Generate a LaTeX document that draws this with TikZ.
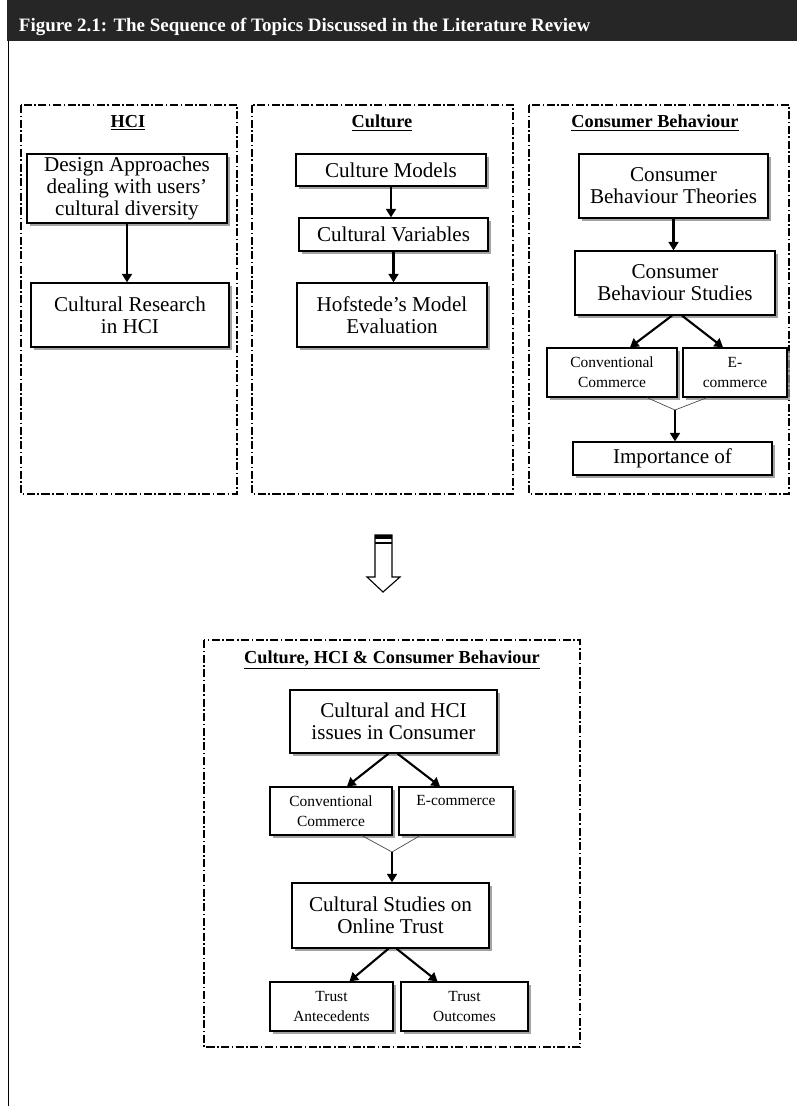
\documentclass[tikz,border=0pt]{standalone}
\usepackage{fontspec}
\setmainfont{Liberation Serif}
\usetikzlibrary{arrows.meta,shadows,calc}
\definecolor{barclr}{HTML}{262626}

\begin{document}
\begin{tikzpicture}[x=0.025cm,y=-0.025cm,
  box/.style={draw,line width=0.9pt,fill=white,inner sep=0pt,align=center,
    font=\fontsize{15}{15.5}\selectfont,
    drop shadow={shadow xshift=2pt,shadow yshift=-2pt,fill=black!45,opacity=0.8}},
  smallbox/.style={box,font=\fontsize{11}{14.5}\selectfont},
  panel/.style={line width=1.4pt,dash pattern=on 5.7pt off 1.8pt on 1.1pt off 1.8pt},
  heading/.style={font=\fontsize{13}{15}\selectfont\bfseries},
  arr/.style={-{Triangle[width=7pt,length=6pt]},line width=1.5pt},
  joinline/.style={line width=0.5pt,black!70}]
\useasboundingbox (0,0) rectangle (797,1106);

% Title bar and frame
\fill[barclr] (7,0) rectangle (797,41);
\node[anchor=base west,text=white,font=\fontsize{13.5}{16}\selectfont\bfseries] (figtitle) at (14,31)
  {Figure 2.1: The Sequence of Topics Discussed in the Literature Review};
\draw[line width=1.2pt] (8.5,41) -- (8.5,1106);

% HCI
\draw[panel] (21,105) rectangle (237,494);
\node[heading] (hcihead) at (128,123) {\underline{HCI}};
\node[box,minimum width=5cm,minimum height=1.725cm] (dsgn) at (127,188.5)
  {Design Approaches\\dealing with users'\\cultural diversity};
\node[box,minimum width=4.95cm,minimum height=1.6cm] (hcires) at (130,315) {Cultural Research\\in HCI};
\draw[arr] (dsgn.south) -- (dsgn.south |- hcires.north);

% Culture
\draw[panel] (252,105) rectangle (513,494);
\node[heading] (culhead) at (382,123) {\underline{Culture}};
\node[box,minimum width=4.75cm,minimum height=0.8cm] (cmod) at (391,170) {Culture Models};
\node[box,minimum width=4.725cm,minimum height=0.825cm] (cvar) at (393.5,234.5) {Cultural Variables};
\node[box,minimum width=4.75cm,minimum height=1.6cm] (hofs) at (392,315) {Hofstede's Model\\Evaluation};
\draw[arr] (cmod.south) -- (cmod.south |- cvar.north);
\draw[arr] (cvar.south) -- (cvar.south |- hofs.north);

% Consumer Behaviour
\draw[panel] (529,105) rectangle (789,494);
\node[heading] (cbhead) at (655,123) {\underline{Consumer Behaviour}};
\node[box,minimum width=4.725cm,minimum height=1.6cm] (cbthe) at (673.5,186) {Consumer\\Behaviour Theories};
\node[box,minimum width=5cm,minimum height=1.6cm] (cbstu) at (675,283) {Consumer\\Behaviour Studies};
\node[smallbox,minimum width=3.25cm,minimum height=1.225cm] (cbconv) at (612,372.5) {Conventional\\Commerce};
\node[smallbox,minimum width=2.6cm,minimum height=1.225cm] (cbecom) at (735,372.5) {E-\\commerce};
\coordinate (cbjoin) at (675,410);
\node[box,minimum width=4.975cm,minimum height=0.825cm] (cbimp) at (672.5,458.5) {Importance of};
\draw[arr] (cbthe.south) -- (cbthe.south |- cbstu.north);
\draw[arr] ($(cbstu.south)+(-3,0)$) -- ($(cbconv.north)+(18,0)$);
\draw[arr] ($(cbstu.south)+(7,0)$) -- ($(cbecom.north)+(-12,0)$);
\draw[joinline] ($(cbconv.south)+(35,0)$) -- (cbjoin) -- ($(cbecom.south)+(-28,0)$);
\draw[arr] (cbjoin) -- (cbjoin |- cbimp.north);

% Hollow arrow
\draw[line width=0.8pt] (375,535) -- (375,577) -- (367,577) -- (383,592) -- (400,577) -- (392,577) -- (392,535) -- cycle;
\fill (375,535) rectangle (392,539);
\draw[line width=0.8pt] (375,543) -- (392,543);

% Culture, HCI & Consumer Behaviour
\draw[panel,line width=1.1pt] (204,640) rectangle (580,1047);
\node[heading] (allhead) at (392,660) {\underline{Culture, HCI \& Consumer Behaviour}};
\node[box,minimum width=5.175cm,minimum height=1.575cm] (issue) at (393.5,721.5) {Cultural and HCI\\issues in Consumer};
\node[smallbox,minimum width=3.05cm,minimum height=1.2cm] (conv) at (331,811) {Conventional\\Commerce};
\node[smallbox,minimum width=2.85cm,minimum height=1.2cm] (ecom) at (456,811) {E-commerce\\\mbox{}};
\coordinate (join) at (392,852);
\node[box,minimum width=4.925cm,minimum height=1.625cm] (trst) at (390.5,915.5) {Cultural Studies on\\Online Trust};
\node[smallbox,minimum width=3.075cm,minimum height=1.225cm] (antec) at (331.5,1006.5) {Trust\\Antecedents};
\node[smallbox,minimum width=3.175cm,minimum height=1.225cm] (outc) at (464.5,1006.5) {Trust\\Outcomes};
\draw[arr] ($(issue.south)+(-5,0)$) -- ($(conv.north)+(16,0)$);
\draw[arr] ($(issue.south)+(4,0)$) -- ($(ecom.north)+(-16,0)$);
\draw[joinline] ($(conv.south)+(31,0)$) -- (join) -- ($(ecom.south)+(-36,0)$);
\draw[arr] (join) -- (join |- trst.north);
\draw[arr] ($(trst.south)+(-2,0)$) -- ($(antec.north)+(18,0)$);
\draw[arr] ($(trst.south)+(6,0)$) -- ($(outc.north)+(-27,0)$);

\end{tikzpicture}
\end{document}
